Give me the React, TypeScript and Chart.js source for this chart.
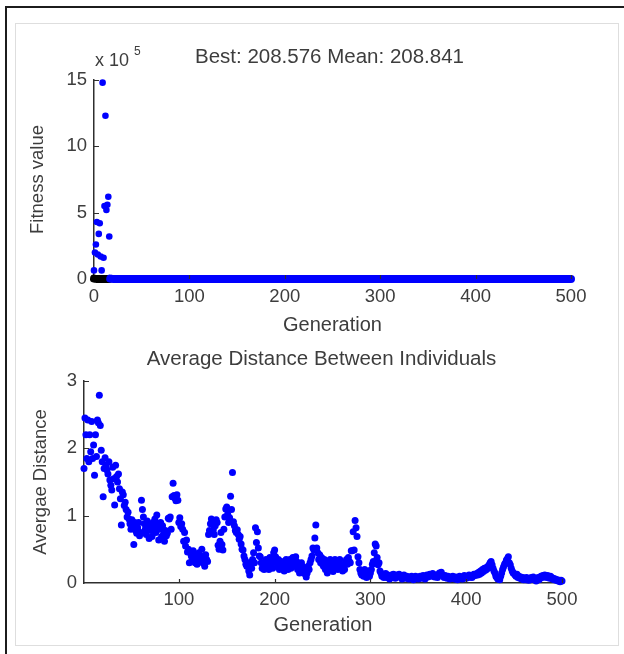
import React, { useEffect, useRef } from "react";
import { Chart, registerables } from "chart.js";

Chart.register(...registerables);

const FONT = '"Liberation Sans", Arial, Helvetica, sans-serif';
const TEXT_COLOR = "#3d3d3d";
const AXIS_COLOR = "#2e2e2e";
const MEAN_COLOR = "#0000ff";
const BEST_COLOR = "#000000";

// ---- text ----
const fitnessTitle = "Best: 208.576 Mean: 208.841";
const fitnessMultiplier = "x 10";
const fitnessExponent = "5";
const distanceTitle = "Average Distance Between Individuals";
const xAxisLabel = "Generation";
const fitnessYLabel = "Fitness value";
const distanceYLabel = "Avergae Distance";

// ---- ticks ----
const fitnessXTicks = [0, 100, 200, 300, 400, 500];
const fitnessYTicks = [0, 500000, 1000000, 1500000]; // shown as x 10^5
const distanceXTicks = [100, 200, 300, 400, 500];
const distanceYTicks = [0, 1, 2, 3];

// ---- fitness data (raw fitness values) ----
const meanGen = [0, 1, 2, 3, 4, 5, 6, 7, 8, 9, 10, 11, 12, 13, 14, 15, 16];
const meanFitness = [
  65000, 200000, 260000, 430000, 185000, 340000, 420000, 170000, 65000,
  1480000, 160000, 550000, 1230000, 520000, 560000, 620000, 320000,
];
const meanTailGen = [17, 18, 20, 25, 30, 40, 50, 75, 100, 150, 200, 250, 300, 350, 400, 450, 500];
const meanTailFitness = [
  3000, 1200, 820, 520, 400, 330, 290, 260, 245, 230, 218, 213, 211, 210, 209.4, 209.0, 208.841,
];
const bestGen = [0, 1, 2, 3, 4, 5, 6, 7, 8, 9, 10, 11, 12, 13, 14, 15, 16];
const bestFitness = [
  2800, 1500, 900, 650, 480, 400, 350, 310, 290, 270, 255, 245, 235, 228, 222, 218, 215,
];

// ---- average distance, generations 1..500 ----
const distance001to100 = [
  1.70, 2.45, 2.20, 1.85, 2.42, 1.80, 2.20, 1.95, 2.40, 1.85,
  2.05, 1.60, 2.20, 1.88, 2.42, 2.38, 2.79, 2.34, 1.97, 1.80,
  1.28, 1.70, 1.86, 1.75, 1.68, 1.62, 1.80, 1.53, 1.45, 1.38,
  1.72, 1.55, 1.16, 1.75, 1.58, 1.50, 1.62, 1.40, 1.25, 0.86,
  1.35, 1.31, 1.15, 1.20, 1.09, 0.98, 1.05, 0.95, 0.88, 0.80,
  0.94, 0.84, 0.57, 0.90, 0.78, 0.74, 0.82, 0.90, 0.70, 0.75,
  1.23, 1.09, 0.98, 0.88, 0.80, 0.72, 0.92, 0.85, 0.66, 0.86,
  0.78, 0.69, 0.90, 0.82, 0.95, 0.75, 1.01, 0.88, 0.64, 0.80,
  0.90, 0.69, 0.85, 0.72, 0.62, 0.78, 0.70, 0.74, 0.96, 0.95,
  0.98, 0.80, 1.28, 1.48, 1.30, 1.26, 1.22, 1.31, 1.23, 0.90,
];
const distance101to200 = [
  0.97, 0.84, 0.88, 0.80, 0.62, 0.75, 0.55, 0.64, 0.46, 0.50,
  0.30, 0.45, 0.40, 0.35, 0.48, 0.38, 0.30, 0.42, 0.28, 0.36,
  0.45, 0.33, 0.40, 0.50, 0.30, 0.38, 0.25, 0.42, 0.35, 0.32,
  0.72, 0.78, 0.88, 0.95, 0.92, 0.79, 0.72, 0.85, 0.94, 0.90,
  0.56, 0.50, 0.62, 0.75, 0.57, 0.49, 0.80, 0.98, 1.10, 1.13,
  1.02, 0.90, 0.97, 1.29, 1.09, 1.64, 0.91, 0.85, 0.78, 0.75,
  0.79, 0.72, 0.65, 0.69, 0.58, 0.50, 0.49, 0.40, 0.35, 0.28,
  0.25, 0.30, 0.18, 0.12, 0.30, 0.22, 0.35, 0.45, 0.30, 0.82,
  0.60, 0.76, 0.52, 0.40, 0.39, 0.30, 0.22, 0.30, 0.20, 0.28,
  0.35, 0.30, 0.25, 0.20, 0.38, 0.28, 0.32, 0.22, 0.45, 0.49,
];
const distance201to300 = [
  0.39, 0.30, 0.25, 0.35, 0.20, 0.28, 0.32, 0.22, 0.30, 0.18,
  0.25, 0.35, 0.28, 0.20, 0.30, 0.35, 0.22, 0.28, 0.38, 0.30,
  0.25, 0.39, 0.32, 0.20, 0.28, 0.15, 0.22, 0.30, 0.25, 0.20,
  0.14, 0.18, 0.09, 0.15, 0.25, 0.20, 0.30, 0.35, 0.40, 0.52,
  0.49, 0.67, 0.86, 0.52, 0.45, 0.35, 0.42, 0.30, 0.38, 0.28,
  0.25, 0.35, 0.20, 0.30, 0.15, 0.22, 0.30, 0.35, 0.25, 0.20,
  0.17, 0.28, 0.35, 0.32, 0.25, 0.20, 0.30, 0.35, 0.28, 0.22,
  0.18, 0.25, 0.20, 0.30, 0.35, 0.28, 0.38, 0.32, 0.30, 0.48,
  0.48, 0.76, 0.49, 0.93, 0.82, 0.69, 0.39, 0.30, 0.20, 0.15,
  0.12, 0.18, 0.10, 0.20, 0.15, 0.08, 0.12, 0.18, 0.10, 0.15,
];
const distance301to400 = [
  0.20, 0.28, 0.32, 0.45, 0.58, 0.55, 0.38, 0.27, 0.30, 0.18,
  0.15, 0.10, 0.12, 0.08, 0.10, 0.14, 0.08, 0.12, 0.10, 0.06,
  0.10, 0.12, 0.08, 0.13, 0.10, 0.07, 0.12, 0.09, 0.11, 0.13,
  0.10, 0.08, 0.06, 0.10, 0.12, 0.09, 0.07, 0.10, 0.08, 0.06,
  0.09, 0.07, 0.10, 0.08, 0.05, 0.08, 0.10, 0.07, 0.09, 0.06,
  0.08, 0.10, 0.07, 0.09, 0.11, 0.08, 0.06, 0.10, 0.12, 0.09,
  0.11, 0.13, 0.10, 0.12, 0.14, 0.11, 0.09, 0.12, 0.10, 0.08,
  0.12, 0.15, 0.13, 0.16, 0.12, 0.10, 0.08, 0.11, 0.09, 0.07,
  0.10, 0.08, 0.06, 0.09, 0.07, 0.10, 0.08, 0.06, 0.09, 0.07,
  0.05, 0.08, 0.10, 0.07, 0.09, 0.06, 0.08, 0.11, 0.09, 0.07,
];
const distance401to500 = [
  0.10, 0.08, 0.12, 0.09, 0.11, 0.08, 0.10, 0.13, 0.11, 0.12,
  0.14, 0.12, 0.16, 0.13, 0.18, 0.15, 0.20, 0.17, 0.22, 0.19,
  0.20, 0.24, 0.22, 0.27, 0.30, 0.32, 0.27, 0.22, 0.18, 0.15,
  0.10, 0.08, 0.06, 0.08, 0.05, 0.10, 0.15, 0.20, 0.24, 0.28,
  0.30, 0.34, 0.36, 0.39, 0.30, 0.27, 0.22, 0.18, 0.15, 0.14,
  0.12, 0.10, 0.13, 0.08, 0.10, 0.07, 0.09, 0.06, 0.08, 0.05,
  0.07, 0.05, 0.08, 0.06, 0.04, 0.07, 0.05, 0.08, 0.06, 0.09,
  0.07, 0.05, 0.03, 0.06, 0.08, 0.05, 0.07, 0.10, 0.08, 0.11,
  0.09, 0.12, 0.10, 0.08, 0.11, 0.09, 0.07, 0.10, 0.08, 0.06,
  0.07, 0.05, 0.06, 0.04, 0.05, 0.03, 0.04, 0.02, 0.04, 0.03,
];
const averageDistance = [
  ...distance001to100,
  ...distance101to200,
  ...distance201to300,
  ...distance301to400,
  ...distance401to500,
];

// ---- helpers ----
const pairs = (xs: number[], ys: number[]) => xs.map((x, i) => ({ x, y: ys[i] }));

const inwardTicks = {
  id: "inwardTicks",
  afterDraw(chart: any) {
    const { ctx, chartArea } = chart;
    const xs = chart.scales.x;
    const ys = chart.scales.y;
    ctx.save();
    ctx.strokeStyle = AXIS_COLOR;
    ctx.lineWidth = 1.2;
    ctx.beginPath();
    xs.ticks.forEach((t: any) => {
      if (t.value === xs.min) return;
      const px = Math.round(xs.getPixelForValue(t.value)) + 0.5;
      ctx.moveTo(px, chartArea.bottom);
      ctx.lineTo(px, chartArea.bottom - 4);
    });
    ys.ticks.forEach((t: any) => {
      if (t.value === ys.min) return;
      const py = Math.round(ys.getPixelForValue(t.value)) + 0.5;
      ctx.moveTo(chartArea.left, py);
      ctx.lineTo(chartArea.left + 5, py);
    });
    ctx.stroke();
    ctx.restore();
  },
};

function headerPlugin(draw: (ctx: CanvasRenderingContext2D, area: any) => void) {
  return {
    id: "header",
    afterDraw(chart: any) {
      const ctx = chart.ctx as CanvasRenderingContext2D;
      ctx.save();
      ctx.fillStyle = TEXT_COLOR;
      ctx.textBaseline = "middle";
      draw(ctx, chart.chartArea);
      ctx.restore();
    },
  };
}

function axis(opts: {
  min: number;
  max: number;
  ticks: number[];
  fitSize: number;
  horizontal: boolean;
  title: string;
  titleSize: number;
  titlePad: any;
  tickPad: number;
  format?: (v: number) => string;
}) {
  return {
    type: "linear",
    min: opts.min,
    max: opts.max,
    afterBuildTicks: (s: any) => {
      s.ticks = opts.ticks.map((v) => ({ value: v }));
    },
    afterFit: (s: any) => {
      if (opts.horizontal) s.height = opts.fitSize;
      else s.width = opts.fitSize;
    },
    grid: { display: false, drawTicks: false },
    border: { display: true, color: AXIS_COLOR, width: 1.5 },
    ticks: {
      autoSkip: false,
      maxRotation: 0,
      padding: opts.tickPad,
      color: TEXT_COLOR,
      font: { family: FONT, size: 18.5 },
      callback: (v: any) => (opts.format ? opts.format(Number(v)) : String(v)),
    },
    title: {
      display: true,
      text: opts.title,
      color: TEXT_COLOR,
      font: { family: FONT, size: opts.titleSize },
      padding: opts.titlePad,
    },
  };
}

export default function App() {
  const topRef = useRef<HTMLCanvasElement>(null);
  const botRef = useRef<HTMLCanvasElement>(null);

  useEffect(() => {
    const pointCommon = { pointBorderWidth: 0, pointHoverRadius: 0, clip: false as any };

    const top = new Chart(topRef.current as HTMLCanvasElement, {
      type: "scatter",
      data: {
        datasets: [
          {
            type: "line",
            label: "Best fitness",
            data: pairs(bestGen, bestFitness),
            borderColor: BEST_COLOR,
            borderWidth: 8,
            borderCapStyle: "round",
            borderJoinStyle: "round",
            backgroundColor: BEST_COLOR,
            pointBackgroundColor: BEST_COLOR,
            pointRadius: 0,
            tension: 0,
            fill: false,
            order: 3,
            ...pointCommon,
          },
          {
            type: "line",
            label: "Mean fitness (late)",
            data: pairs(meanTailGen, meanTailFitness),
            borderColor: MEAN_COLOR,
            borderWidth: 8,
            borderCapStyle: "round",
            borderJoinStyle: "round",
            backgroundColor: MEAN_COLOR,
            pointBackgroundColor: MEAN_COLOR,
            pointRadius: 0,
            tension: 0,
            fill: false,
            order: 2,
            ...pointCommon,
          },
          {
            label: "Mean fitness",
            data: pairs(meanGen, meanFitness),
            backgroundColor: MEAN_COLOR,
            pointBackgroundColor: MEAN_COLOR,
            pointRadius: 3.3,
            order: 1,
            ...pointCommon,
          },
        ] as any,
      },
      options: {
        animation: false,
        responsive: false,
        events: [],
        layout: { padding: { top: 80, right: 53, left: 0, bottom: 0 } },
        plugins: { legend: { display: false }, tooltip: { enabled: false } },
        scales: {
          x: axis({
            min: 0,
            max: 500,
            ticks: fitnessXTicks,
            fitSize: 61,
            horizontal: true,
            title: xAxisLabel,
            titleSize: 20,
            titlePad: { top: 0, bottom: 3 },
            tickPad: 7,
          }),
          y: axis({
            min: 0,
            max: 1500000,
            ticks: fitnessYTicks,
            fitSize: 94,
            horizontal: false,
            title: fitnessYLabel,
            titleSize: 18.5,
            titlePad: { top: 27, bottom: 0 },
            tickPad: 7,
            format: (v) => String(Math.round(v / 100000)),
          }),
        } as any,
      },
      plugins: [
        inwardTicks,
        headerPlugin((ctx, area) => {
          ctx.textAlign = "center";
          ctx.font = `20.5px ${FONT}`;
          ctx.fillText(fitnessTitle, (area.left + area.right) / 2 - 3, 57);
          ctx.textAlign = "left";
          ctx.font = `18px ${FONT}`;
          ctx.fillText(fitnessMultiplier, area.left + 1, 61);
          ctx.font = `12px ${FONT}`;
          ctx.fillText(fitnessExponent, area.left + 40, 52);
        }),
      ],
    } as any);

    const bot = new Chart(botRef.current as HTMLCanvasElement, {
      type: "scatter",
      data: {
        datasets: [
          {
            label: "Average distance",
            data: averageDistance.map((y, i) => ({ x: i + 1, y })),
            backgroundColor: MEAN_COLOR,
            pointBackgroundColor: MEAN_COLOR,
            pointRadius: 3.5,
            ...pointCommon,
          },
        ] as any,
      },
      options: {
        animation: false,
        responsive: false,
        events: [],
        layout: { padding: { top: 41, right: 62, left: 0, bottom: 0 } },
        plugins: { legend: { display: false }, tooltip: { enabled: false } },
        scales: {
          x: axis({
            min: 1,
            max: 500,
            ticks: distanceXTicks,
            fitSize: 71,
            horizontal: true,
            title: xAxisLabel,
            titleSize: 20,
            titlePad: { top: 0, bottom: 16.5 },
            tickPad: 6,
          }),
          y: axis({
            min: 0,
            max: 3,
            ticks: distanceYTicks,
            fitSize: 84,
            horizontal: false,
            title: distanceYLabel,
            titleSize: 18.5,
            titlePad: { top: 30, bottom: 0 },
            tickPad: 7,
          }),
        } as any,
      },
      plugins: [
        inwardTicks,
        headerPlugin((ctx, area) => {
          ctx.textAlign = "center";
          ctx.font = `20.5px ${FONT}`;
          ctx.fillText(distanceTitle, (area.left + area.right) / 2 - 1.5, 19);
        }),
      ],
    } as any);

    return () => {
      top.destroy();
      bot.destroy();
    };
  }, []);

  return (
    <div
      style={{
        position: "absolute",
        left: 0,
        top: 0,
        width: 624,
        height: 654,
        background: "#ffffff",
        overflow: "hidden",
      }}
    >
      <div
        style={{
          position: "absolute",
          left: 5,
          top: 6,
          width: 640,
          height: 660,
          borderTop: "2px solid #1c1c1c",
          borderLeft: "2px solid #1c1c1c",
        }}
      />
      <div
        style={{
          position: "absolute",
          left: 15,
          top: 23,
          width: 602,
          height: 621,
          border: "1px solid #dedede",
        }}
      />
      <canvas
        ref={topRef}
        width={624}
        height={340}
        style={{ position: "absolute", left: 0, top: 0, display: "block" }}
      />
      <canvas
        ref={botRef}
        width={624}
        height={314}
        style={{ position: "absolute", left: 0, top: 340, display: "block" }}
      />
    </div>
  );
}
